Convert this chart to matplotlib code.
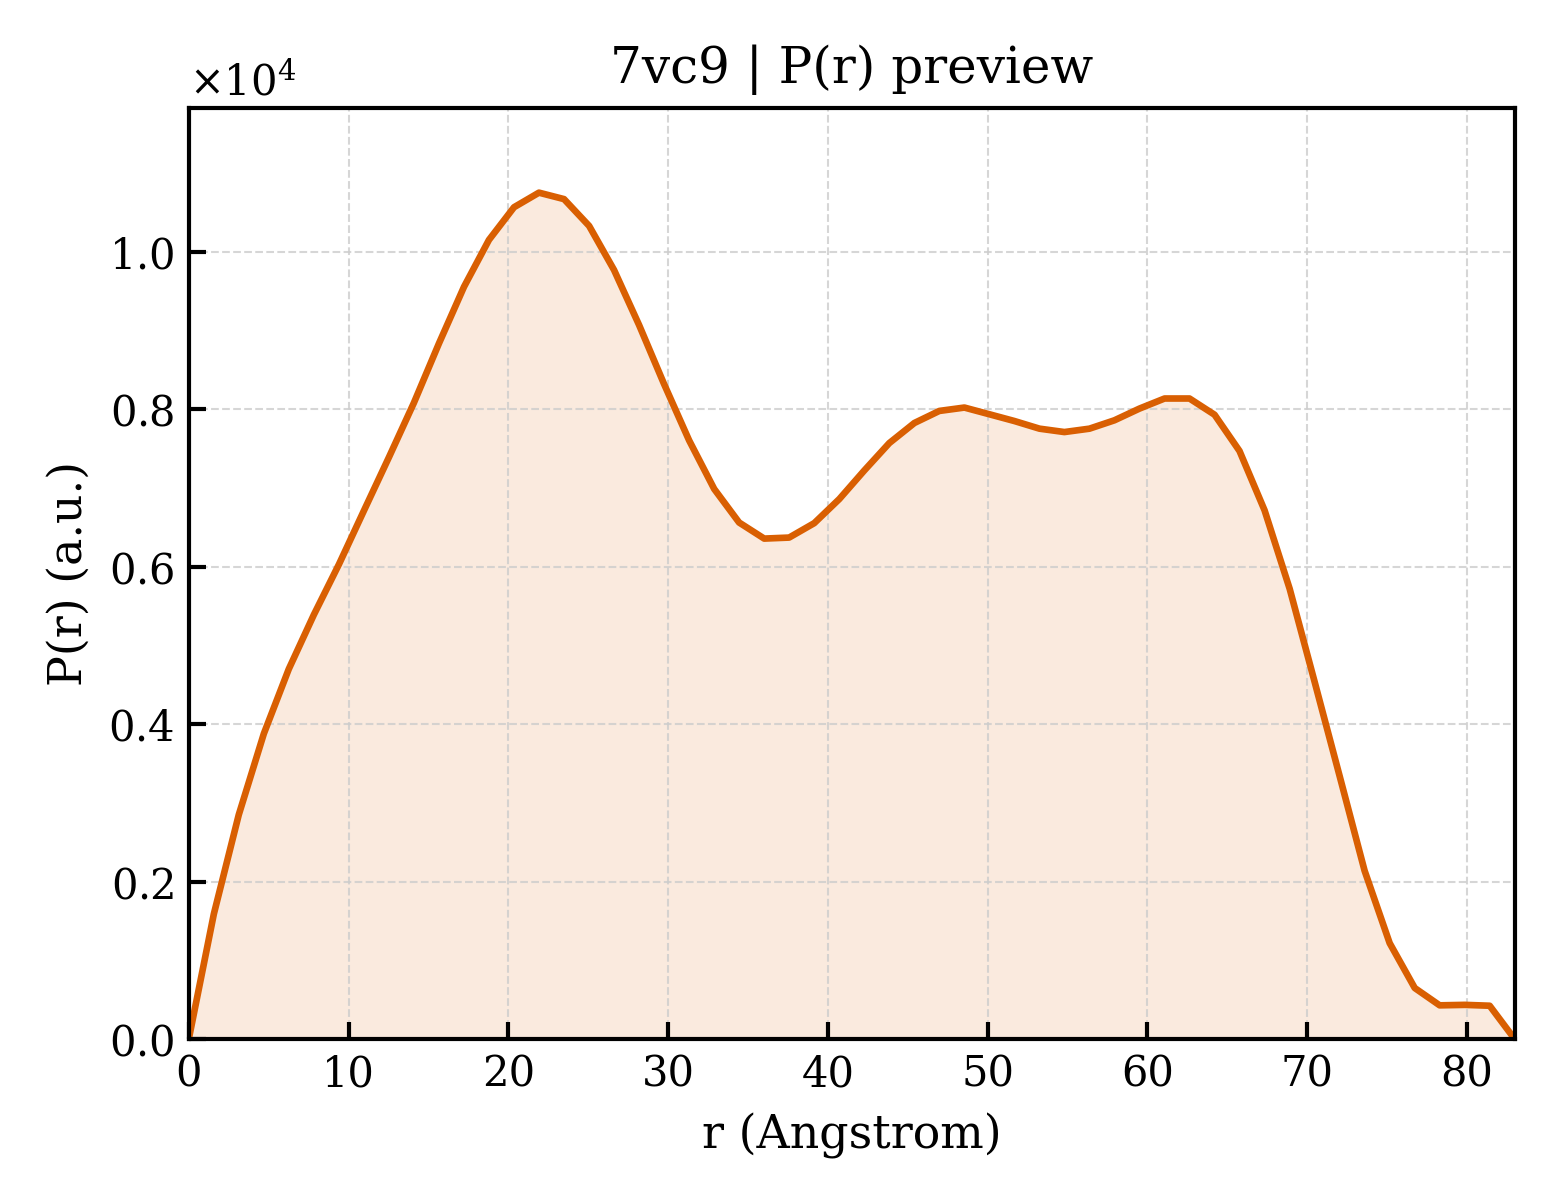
"""
P(r) preview plot for 7vc9
"""

import matplotlib
matplotlib.use('Agg')
import matplotlib.pyplot as plt

# 데이터 (r in Angstrom, P(r) in a.u.)
r_values = [
    0.00, 1.57, 3.13, 4.70, 6.26, 7.83, 9.40, 10.96, 12.53, 14.09,
    15.66, 17.23, 18.79, 20.36, 21.92, 23.49, 25.06, 26.62, 28.19, 29.75,
    31.32, 32.89, 34.45, 36.02, 37.58, 39.15, 40.72, 42.28, 43.85, 45.42,
    46.98, 48.55, 50.11, 51.68, 53.25, 54.81, 56.38, 57.94, 59.51, 61.08,
    62.64, 64.21, 65.77, 67.34, 68.91, 70.47, 72.04, 73.60, 75.17, 76.74,
    78.30, 79.87, 81.43, 83.00,
]
pr_values = [
    0, 1590, 2850, 3880, 4700, 5390, 6030, 6710, 7390, 8080,
    8835, 9555, 10150, 10565, 10750, 10668, 10328, 9768, 9068, 8320,
    7604, 6987, 6561, 6357, 6370, 6553, 6859, 7221, 7570, 7825,
    7978, 8021, 7936, 7850, 7753, 7710, 7753, 7859, 8008, 8136,
    8136, 7930, 7470, 6716, 5720, 4540, 3340, 2140, 1220, 650,
    430, 436, 425, 0,
]

TITLE = '7vc9 | P(r) preview'
COLOR = '#d95f02'

plt.rcParams['font.family'] = ['DejaVu Serif']
plt.rcParams['mathtext.fontset'] = 'dejavuserif'
plt.rcParams['font.size'] = 10


def main():
    fig, ax = plt.subplots(figsize=(5.2, 4), dpi=300)
    fig.subplots_adjust(left=0.121, right=0.971, bottom=0.134, top=0.91)

    ax.fill_between(r_values, pr_values, color=COLOR, alpha=0.13, linewidth=0)
    ax.plot(r_values, pr_values, color=COLOR, linewidth=1.6)

    ax.set_xlim(0, max(r_values))
    ax.set_ylim(0, max(pr_values) * 1.1)

    ax.set_xlabel('r (Angstrom)', fontsize=11)
    ax.set_ylabel('P(r) (a.u.)', fontsize=11)
    ax.set_title(TITLE, fontsize=12)

    ax.ticklabel_format(axis='y', style='sci', scilimits=(0, 0), useMathText=True)
    ax.tick_params(direction='in', length=4, width=1, labelsize=10)
    ax.grid(True, linestyle='--', linewidth=0.5, color='#cccccc', alpha=0.8)
    for spine in ax.spines.values():
        spine.set_linewidth(1.0)

    fig.savefig('out.png', dpi=300)
    plt.close(fig)


if __name__ == '__main__':
    main()
